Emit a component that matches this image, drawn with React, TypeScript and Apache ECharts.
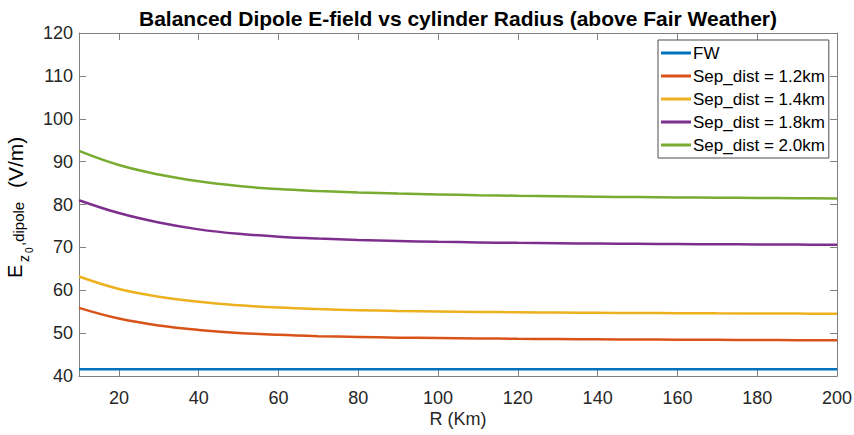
import React, { useEffect, useRef } from "react";
import * as echarts from "echarts";

// Cylinder radius R (km)
const radiusKm = [10, 20, 30, 40, 50, 60, 70, 80, 90, 100, 110, 120, 130, 140, 150, 160, 170, 180, 190, 200];

// Vertical E-field (V/m) for each separation distance
const fairWeather = [41.6, 41.6, 41.6, 41.6, 41.6, 41.6, 41.6, 41.6, 41.6, 41.6, 41.6, 41.6, 41.6, 41.6, 41.6, 41.6, 41.6, 41.6, 41.6, 41.6];
const sep12 = [55.9, 53.4, 51.8, 50.75, 50.05, 49.6, 49.3, 49.1, 48.95, 48.85, 48.76, 48.68, 48.62, 48.56, 48.51, 48.47, 48.43, 48.39, 48.35, 48.32];
const sep14 = [63.2, 60.3, 58.5, 57.3, 56.5, 55.95, 55.6, 55.36, 55.18, 55.05, 54.95, 54.87, 54.8, 54.74, 54.69, 54.65, 54.61, 54.58, 54.55, 54.52];
const sep18 = [81.0, 78.0, 75.8, 74.2, 73.15, 72.5, 72.05, 71.72, 71.48, 71.3, 71.16, 71.05, 70.96, 70.89, 70.83, 70.78, 70.73, 70.69, 70.65, 70.62];
const sep20 = [92.5, 89.2, 87.0, 85.4, 84.3, 83.6, 83.15, 82.8, 82.55, 82.35, 82.18, 82.04, 81.92, 81.82, 81.73, 81.65, 81.58, 81.52, 81.46, 81.4];

const seriesNames = ["FW", "Sep_dist = 1.2km", "Sep_dist = 1.4km", "Sep_dist = 1.8km", "Sep_dist = 2.0km"];
const seriesValues = [fairWeather, sep12, sep14, sep18, sep20];
const seriesColors = ["#0072BD", "#D95319", "#EDB120", "#7E2F8E", "#77AC30"];

const xTicks = [20, 40, 60, 80, 100, 120, 140, 160, 180, 200];

const FONT = "'Liberation Sans', Arial, Helvetica, sans-serif";
const AXIS_COLOR = "#808080";
const TEXT_COLOR = "#262626";

export default function App() {
  const ref = useRef<HTMLDivElement>(null);

  useEffect(() => {
    if (!ref.current) return;
    const chart = echarts.init(ref.current, null, { renderer: "svg" });

    const xCommon = {
      type: "value" as const,
      min: 10,
      max: 200,
      axisLine: { show: true, lineStyle: { color: AXIS_COLOR, width: 1 } },
      axisTick: { show: true, inside: true, length: 7, customValues: xTicks, lineStyle: { color: AXIS_COLOR } },
      splitLine: { show: false },
    };
    const yCommon = {
      type: "value" as const,
      min: 40,
      max: 120,
      interval: 10,
      axisLine: { show: true, lineStyle: { color: AXIS_COLOR, width: 1 } },
      axisTick: { show: true, inside: true, length: 7, lineStyle: { color: AXIS_COLOR } },
      splitLine: { show: false },
    };

    const rotated = (text: string, x: number, y: number, size: number) => ({
      type: "text",
      x,
      y,
      rotation: Math.PI / 2,
      style: {
        text,
        fontSize: size,
        fontFamily: FONT,
        fill: "#000",
        textAlign: "left",
        textVerticalAlign: "middle",
      },
    });

    chart.setOption({
      animation: false,
      backgroundColor: "#fff",
      grid: { left: 79, right: 17, top: 33, bottom: 59, outerBoundsMode: "none" },
      xAxis: [
        {
          ...xCommon,
          position: "bottom",
          name: "R (Km)",
          nameLocation: "middle",
          nameGap: 34,
          nameMoveOverlap: false,
          nameTextStyle: { fontSize: 18, fontFamily: FONT, color: TEXT_COLOR },
          axisLabel: {
            customValues: xTicks,
            fontSize: 18,
            fontFamily: FONT,
            color: TEXT_COLOR,
            margin: 13,
          },
        },
        {
          ...xCommon,
          position: "top",
          axisLabel: { show: false },
        },
      ],
      yAxis: [
        {
          ...yCommon,
          position: "left",
          axisLabel: { fontSize: 18, fontFamily: FONT, color: TEXT_COLOR, margin: 6 },
        },
        {
          ...yCommon,
          position: "right",
          axisLabel: { show: false },
        },
      ],
      legend: {
        orient: "vertical",
        left: 658,
        top: 40,
        icon: "rect",
        itemWidth: 30,
        itemHeight: 3,
        itemGap: 3,
        padding: [3, 4, 3, 3],
        borderColor: "#4d4d4d",
        borderWidth: 1,
        backgroundColor: "#fff",
        data: seriesNames,
        textStyle: { fontSize: 17, fontFamily: FONT, color: "#000", lineHeight: 20, padding: [0, 0, 0, -3] },
      },
      graphic: [
        {
          type: "text",
          x: 458,
          y: 18,
          style: {
            text: "Balanced Dipole E-field vs cylinder Radius (above Fair Weather)",
            fontSize: 21,
            fontWeight: "bold",
            fontFamily: FONT,
            fill: "#000",
            textAlign: "center",
            textVerticalAlign: "middle",
          },
        },
        rotated("E", 15, 278, 20),
        rotated("z", 24, 262, 14),
        rotated("0", 29, 253, 10),
        rotated(",dipole", 18, 246, 15),
        rotated("(V/m)", 15, 188, 21),
      ],
      series: seriesNames.map((name, i) => ({
        name,
        type: "line",
        xAxisIndex: 0,
        yAxisIndex: 0,
        data: radiusKm.map((r, k) => [r, seriesValues[i][k]]),
        smooth: 0.4,
        showSymbol: false,
        symbol: "none",
        lineStyle: { width: 2.5, color: seriesColors[i] },
        itemStyle: { color: seriesColors[i] },
      })),
    });

    return () => chart.dispose();
  }, []);

  return (
    <div
      ref={ref}
      style={{ position: "absolute", left: 0, top: 0, width: 854, height: 435 }}
    />
  );
}
